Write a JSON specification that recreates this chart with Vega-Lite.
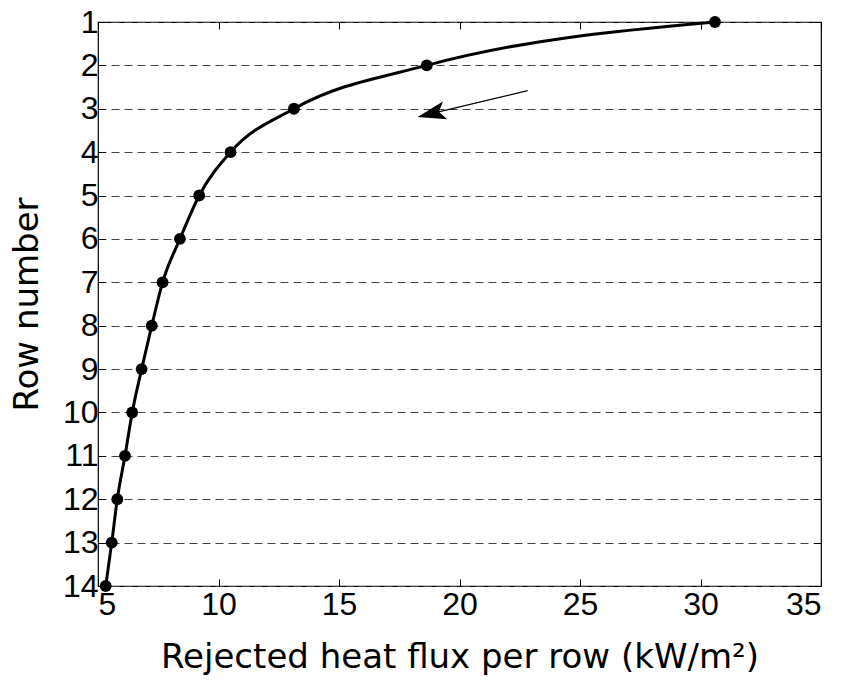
{
  "$schema": "https://vega.github.io/schema/vega-lite/v6.json",
  "autosize": {"type": "none"},
  "padding": {"left": 98, "top": 22, "right": 24, "bottom": 98},
  "width": 723,
  "height": 564,
  "background": "white",
  "config": {
    "view": {"stroke": "black", "strokeWidth": 1.2},
    "axis": {
      "labelFont": "Liberation Sans",
      "labelFontSize": 32,
      "labelColor": "black",
      "titleFont": "DejaVu Sans",
      "titleFontSize": 34,
      "titleFontWeight": "normal",
      "titleColor": "black",
      "tickColor": "black",
      "tickSize": -7,
      "tickWidth": 1,
      "domain": false
    }
  },
  "datasets": {
    "rows": [
      {"row": 1, "flux": 30.6},
      {"row": 2, "flux": 18.64},
      {"row": 3, "flux": 13.13},
      {"row": 4, "flux": 10.5},
      {"row": 5, "flux": 9.2},
      {"row": 6, "flux": 8.4},
      {"row": 7, "flux": 7.68},
      {"row": 8, "flux": 7.23},
      {"row": 9, "flux": 6.81},
      {"row": 10, "flux": 6.42},
      {"row": 11, "flux": 6.12},
      {"row": 12, "flux": 5.8},
      {"row": 13, "flux": 5.57},
      {"row": 14, "flux": 5.32}
    ],
    "arrow": [
      {"x": 22.83, "y": 2.58, "x2": 18.83, "y2": 3.113}
    ]
  },
  "layer": [
    {
      "data": {"name": "rows"},
      "mark": {"type": "line", "color": "black", "strokeWidth": 3, "interpolate": "monotone", "clip": false},
      "encoding": {
        "x": {
          "field": "flux", "type": "quantitative",
          "scale": {"domain": [5, 35], "nice": false, "zero": false},
          "axis": {
            "orient": "bottom",
            "values": [5, 10, 15, 20, 25, 30, 35],
            "title": "Rejected heat flux per row (kW/m²)",
            "labelPadding": 10,
            "titlePadding": 20,
            "grid": false
          }
        },
        "y": {
          "field": "row", "type": "quantitative",
          "scale": {"domain": [1, 14], "nice": false, "zero": false, "reverse": true},
          "axis": {
            "orient": "left",
            "values": [1, 2, 3, 4, 5, 6, 7, 8, 9, 10, 11, 12, 13, 14],
            "title": "Row number",
            "labelPadding": 7,
            "titlePadding": 18,
            "grid": true,
            "gridColor": "#444444",
            "gridDash": [8, 5],
            "gridWidth": 1,
            "gridOpacity": 1
          }
        },
        "order": {"field": "row", "type": "quantitative"}
      }
    },
    {
      "data": {"name": "rows"},
      "mark": {"type": "point", "shape": "circle", "filled": true, "color": "black", "opacity": 1, "size": 140, "clip": false},
      "encoding": {
        "x": {
          "field": "flux", "type": "quantitative",
          "scale": {"domain": [5, 35], "nice": false, "zero": false},
          "axis": {"orient": "top", "values": [5, 10, 15, 20, 25, 30, 35], "labels": false, "title": null, "grid": false}
        },
        "y": {
          "field": "row", "type": "quantitative",
          "scale": {"domain": [1, 14], "nice": false, "zero": false, "reverse": true},
          "axis": {"orient": "right", "values": [1, 2, 3, 4, 5, 6, 7, 8, 9, 10, 11, 12, 13, 14], "labels": false, "title": null, "grid": false}
        }
      }
    },
    {
      "data": {"name": "arrow"},
      "mark": {"type": "rule", "color": "black", "strokeWidth": 1.2},
      "encoding": {
        "x": {"field": "x", "type": "quantitative", "scale": {"domain": [5, 35], "nice": false, "zero": false}, "axis": null},
        "y": {"field": "y", "type": "quantitative", "scale": {"domain": [1, 14], "nice": false, "zero": false, "reverse": true}, "axis": null},
        "x2": {"field": "x2"},
        "y2": {"field": "y2"}
      }
    },
    {
      "data": {"name": "arrow"},
      "mark": {"type": "point", "shape": "M-1,0 L1,-0.65 L0.55,0 L1,0.65 Z", "filled": true, "color": "black", "opacity": 1, "size": 800, "angle": -13.4},
      "encoding": {
        "x": {"field": "x2", "type": "quantitative", "scale": {"domain": [5, 35], "nice": false, "zero": false}, "axis": null},
        "y": {"field": "y2", "type": "quantitative", "scale": {"domain": [1, 14], "nice": false, "zero": false, "reverse": true}, "axis": null}
      }
    }
  ],
  "resolve": {"axis": {"x": "independent", "y": "independent"}}
}
